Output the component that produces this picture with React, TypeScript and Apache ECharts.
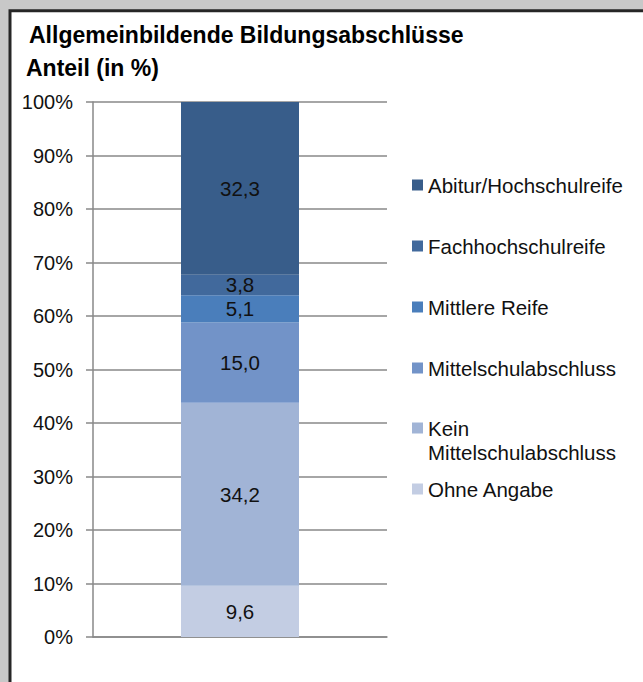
import React, { useEffect, useRef } from "react";
import * as echarts from "echarts";

const categories = ["Gesamt"];
const seriesNames = [
  "Ohne Angabe",
  "Kein\nMittelschulabschluss",
  "Mittelschulabschluss",
  "Mittlere Reife",
  "Fachhochschulreife",
  "Abitur/Hochschulreife",
];
const seriesValues = [9.6, 34.2, 15.0, 5.1, 3.8, 32.3];
const seriesColors = ["#c3cde3", "#a1b4d6", "#7293c8", "#4a7ebb", "#41699c", "#385d8a"];
const titleText = "Allgemeinbildende Bildungsabschlüsse";
const subTitleText = "Anteil (in %)";
// legend row centres (first text line), top to bottom, in legend order
const legendOrder = [5, 4, 3, 2, 1, 0];
const legendCenters = [185, 246, 307, 368, 428, 489];

const FONT = "'Liberation Sans', Arial, sans-serif";

export default function App() {
  const ref = useRef<HTMLDivElement>(null);
  useEffect(() => {
    if (!ref.current) return;
    const chart = echarts.init(ref.current, undefined, { renderer: "svg" });
    const fmt = (v: number) => v.toFixed(1).replace(".", ",");
    const legends = legendOrder.map((si, i) => {
      const multi = seriesNames[si].includes("\n");
      return {
        data: [seriesNames[si]],
        orient: "vertical",
        left: 412,
        top: legendCenters[i] - (multi ? 36 : 12),
        padding: 0,
        itemWidth: 11,
        itemHeight: 11,
        icon: "rect",
        selectedMode: false,
        formatter: (name: string) => (multi ? "\n" + name : name),
        textStyle: {
          fontSize: 20.5,
          lineHeight: 24,
          color: "#111",
          fontFamily: FONT,
        },
      };
    });
    chart.setOption({
      animation: false,
      backgroundColor: "transparent",
      graphic: [
        {
          type: "rect",
          z: -10,
          silent: true,
          shape: { x: 10, y: 10.8, width: 900, height: 900 },
          style: { fill: "#ffffff", stroke: "#262626", lineWidth: 3 },
        },
      ],
      title: [
        {
          text: titleText,
          left: 29,
          top: 22,
          padding: 0,
          textStyle: { fontSize: 23, fontWeight: "bold", color: "#000", fontFamily: FONT, lineHeight: 26 },
        },
        {
          text: subTitleText,
          left: 26,
          top: 55,
          padding: 0,
          textStyle: { fontSize: 23, fontWeight: "bold", color: "#000", fontFamily: FONT, lineHeight: 26 },
        },
      ],
      legend: legends,
      grid: { left: 93, right: 256, top: 102, bottom: 45, containLabel: false },
      xAxis: {
        type: "category",
        data: categories,
        axisLine: { show: true, lineStyle: { color: "#898989", width: 1.5 } },
        axisTick: { show: false },
        axisLabel: { show: false },
      },
      yAxis: {
        type: "value",
        min: 0,
        max: 100,
        interval: 10,
        axisLine: { show: true, lineStyle: { color: "#898989", width: 1.5 } },
        axisTick: { show: true, length: 7, lineStyle: { color: "#898989", width: 1.5 } },
        splitLine: { show: true, lineStyle: { color: "#898989", width: 1.5 } },
        axisLabel: {
          formatter: (v: number) => v + "%",
          fontSize: 20,
          color: "#111",
          fontFamily: FONT,
          margin: 20,
        },
      },
      series: seriesNames.map((name, i) => ({
        name,
        type: "bar",
        stack: "total",
        barWidth: 118,
        data: [seriesValues[i]],
        itemStyle: { color: seriesColors[i] },
        label: {
          show: true,
          position: "inside",
          formatter: (p: any) => fmt(p.value),
          fontSize: 20.5,
          color: "#111",
          fontFamily: FONT,
        },
      })),
    });
    return () => chart.dispose();
  }, []);
  return (
    <div
      style={{
        position: "fixed",
        left: 0,
        top: 0,
        width: 643,
        height: 682,
        background: "#c8c8c8",
      }}
    >
      <div ref={ref} style={{ width: 643, height: 682 }} />
    </div>
  );
}
